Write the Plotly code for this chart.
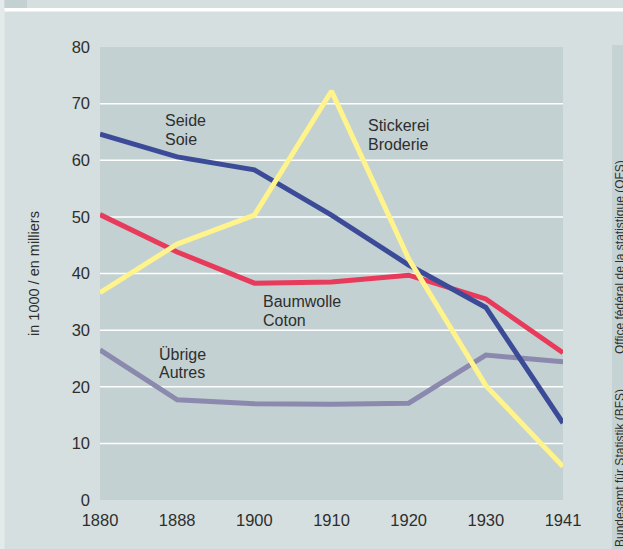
import plotly.graph_objects as go

years = ["1880", "1888", "1900", "1910", "1920", "1930", "1941"]
seide = [64.6, 60.6, 58.3, 50.3, 41.5, 34.0, 13.6]
baumwolle = [50.4, 43.8, 38.3, 38.5, 39.7, 35.5, 26.0]
stickerei = [36.6, 45.2, 50.3, 72.2, 42.6, 20.2, 5.9]
uebrige = [26.5, 17.7, 17.0, 16.9, 17.1, 25.6, 24.4]
y_ticks = [0, 10, 20, 30, 40, 50, 60, 70, 80]
grid_vals = [10, 20, 30, 40, 50, 60, 70]

W, H = 623, 549
L, R, T, B = 100, 60, 47, 49
PW, PH = W - L - R, H - T - B

def px(x):
    return (x - L) / PW

def py(y):
    return (H - B - y) / PH

FONT = "Liberation Sans, Arial, sans-serif"
TXT = "#2e2e2e"

fig = go.Figure()
series = [
    ("Übrige", uebrige, "#8b89ae"),
    ("Baumwolle", baumwolle, "#e83a5b"),
    ("Seide", seide, "#3c4b98"),
    ("Stickerei", stickerei, "#fff38c"),
]
for name, vals, col in series:
    fig.add_trace(go.Scatter(x=years, y=vals, mode="lines", name=name,
                             line=dict(color=col, width=5), showlegend=False))

shapes = []
for g in grid_vals:
    shapes.append(dict(type="line", xref="paper", yref="y", x0=0, x1=1, y0=g, y1=g,
                       line=dict(color="white", width=1.5), layer="below"))
# decorative frame pieces
shapes.append(dict(type="rect", xref="paper", yref="paper", x0=px(0), x1=px(4.5), y0=py(549), y1=py(0),
                   fillcolor="#e4eaea", line_width=0, layer="below"))
shapes.append(dict(type="rect", xref="paper", yref="paper", x0=px(4.5), x1=px(27), y0=py(8), y1=py(0),
                   fillcolor="#c3d1d2", line_width=0, layer="below"))
shapes.append(dict(type="rect", xref="paper", yref="paper", x0=px(4.5), x1=px(623), y0=py(11.5), y1=py(8),
                   fillcolor="#ffffff", line_width=0, layer="below"))
shapes.append(dict(type="rect", xref="paper", yref="paper", x0=px(612), x1=px(623), y0=py(549), y1=py(45),
                   fillcolor="#c6d3d4", line_width=0, layer="below"))

annotations = []
labels = [
    ("Seide", 163, 120.5), ("Soie", 163, 139.5),
    ("Stickerei", 366, 125), ("Broderie", 366, 144),
    ("Baumwolle", 260.5, 301), ("Coton", 260.5, 320),
    ("Übrige", 157, 354.5), ("Autres", 157, 372.5),
]
for t, x, y in labels:
    annotations.append(dict(text=t, xref="paper", yref="paper", x=px(x), y=py(y),
                            xanchor="left", yanchor="middle", showarrow=False,
                            font=dict(family=FONT, size=16, color=TXT)))
annotations.append(dict(text="in 1000 / en milliers", xref="paper", yref="paper",
                        x=px(34), y=py(274), textangle=-90, xanchor="center", yanchor="middle",
                        showarrow=False, font=dict(family=FONT, size=14.5, color=TXT)))
annotations.append(dict(text="Bundesamt für Statistik (BFS)", xref="paper", yref="paper",
                        x=px(620), y=py(549), textangle=-90, xanchor="center", yanchor="bottom",
                        showarrow=False, font=dict(family=FONT, size=12, color=TXT)))
annotations.append(dict(text="Office fédéral de la statistique (OFS)", xref="paper", yref="paper",
                        x=px(620), y=py(356), textangle=-90, xanchor="center", yanchor="bottom",
                        showarrow=False, font=dict(family=FONT, size=12, color=TXT)))

fig.update_layout(
    width=W, height=H,
    margin=dict(l=L, r=R, t=T, b=B, pad=0),
    paper_bgcolor="#d5dfe0",
    plot_bgcolor="#c3d1d2",
    font=dict(family=FONT, size=16.5, color=TXT),
    shapes=shapes,
    annotations=annotations,
    xaxis=dict(type="category", range=[0, len(years) - 1], showgrid=False, zeroline=False,
               showline=False, ticks="", ticklabelstandoff=8, tickfont=dict(size=16.5, color=TXT),
               fixedrange=True),
    yaxis=dict(range=[0, 80], tickvals=y_ticks, showgrid=False, zeroline=False, showline=False,
               ticks="", ticklabelstandoff=9, tickfont=dict(size=16.5, color=TXT), fixedrange=True),
)

fig.write_html("out.html", config={"displayModeBar": False},
               post_script="document.body.style.margin='0';document.body.style.padding='0';")
